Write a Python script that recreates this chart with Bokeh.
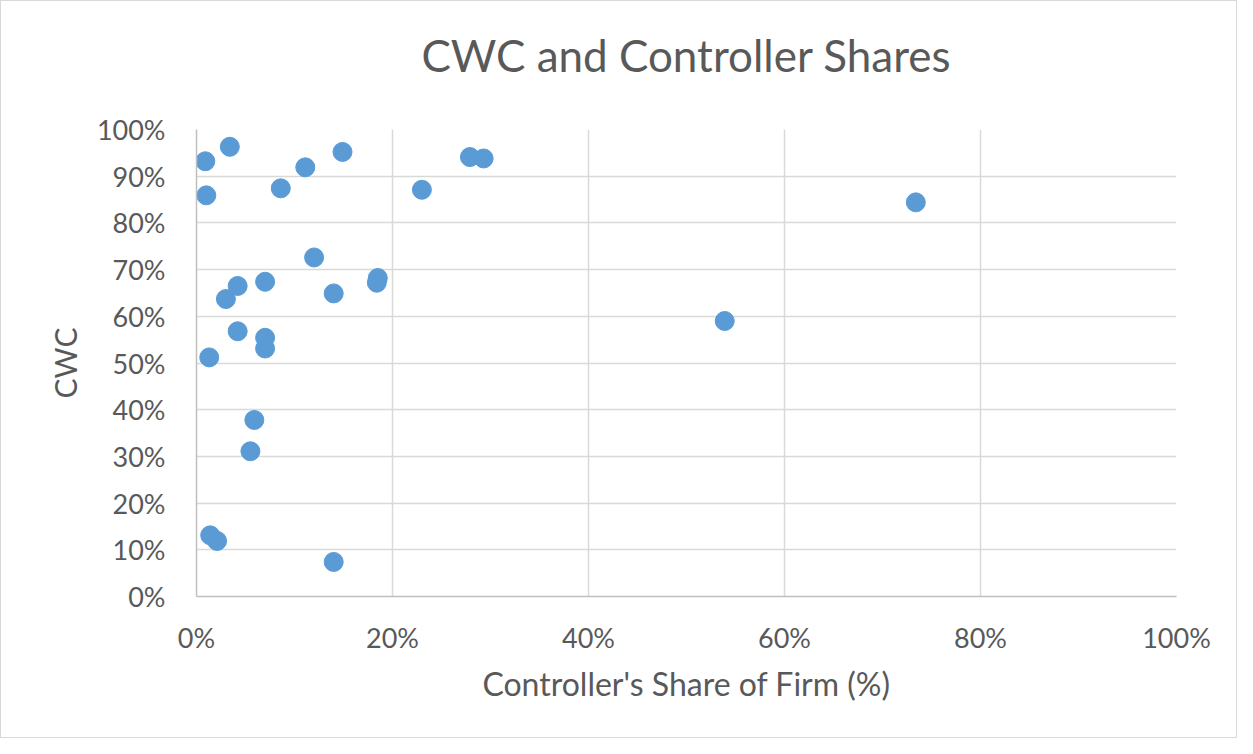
from bokeh.plotting import figure
from bokeh.models import Range1d, FixedTicker, PrintfTickFormatter, Title
from bokeh.embed import file_html
from bokeh.resources import INLINE

# Controller's share of firm (%) and CWC (%)
controller_share = [0.9, 3.4, 1.0, 11.1, 14.9, 8.6, 27.9, 29.3, 23.0, 12.0,
                    4.2, 7.0, 3.0, 14.0, 18.5, 18.4, 4.2, 7.0, 7.0, 1.3,
                    5.9, 5.5, 1.4, 2.1, 14.0, 53.9, 73.4]
cwc = [93.2, 96.3, 85.9, 91.9, 95.2, 87.4, 94.1, 93.8, 87.1, 72.6,
       66.5, 67.4, 63.7, 64.9, 68.2, 67.2, 56.8, 55.4, 53.1, 51.2,
       37.8, 31.1, 13.1, 11.9, 7.4, 59.0, 84.4]
x_ticks = [0, 20, 40, 60, 80, 100]
y_ticks = [0, 10, 20, 30, 40, 50, 60, 70, 80, 90, 100]
title_text = "CWC and Controller Shares"

FONT = "Lato"
TXT = "#595959"

p = figure(width=1237, height=738, output_backend="svg", toolbar_location=None,
           x_range=Range1d(0, 100), y_range=Range1d(0, 100),
           min_border_left=195, min_border_right=62,
           min_border_top=128, min_border_bottom=143)
p.styles = {"border": "1px solid #D9D9D9"}
p.outline_line_color = None
p.background_fill_color = "white"
p.border_fill_color = "white"

# spacer between title and plot area
p.add_layout(Title(text=" ", text_font_size="2px", standoff=40), "above")

p.title.text = title_text
p.title.align = "center"
p.title.text_font = FONT
p.title.text_font_size = "44px"
p.title.text_font_style = "normal"
p.title.text_color = TXT
p.title.standoff = 10

p.scatter(controller_share, cwc, size=19, fill_color="#5B9BD5", line_color="#5B9BD5")

p.xaxis.ticker = FixedTicker(ticks=x_ticks)
p.yaxis.ticker = FixedTicker(ticks=y_ticks)
for ax in (p.xaxis, p.yaxis):
    ax.formatter = PrintfTickFormatter(format="%d%%")
    ax.major_tick_line_color = None
    ax.minor_tick_line_color = None
    ax.major_tick_out = 0
    ax.major_tick_in = 0
    ax.axis_line_color = "#BFBFBF"
    ax.axis_line_width = 1.5
    ax.major_label_text_font = FONT
    ax.major_label_text_font_size = "27px"
    ax.major_label_text_color = TXT
    ax.axis_label_text_font = FONT
    ax.axis_label_text_font_style = "normal"
    ax.axis_label_text_color = TXT

p.xaxis.axis_label = "Controller's Share of Firm (%)"
p.yaxis.axis_label = "CWC"
p.xaxis.axis_label_text_font_size = "32px"
p.yaxis.axis_label_text_font_size = "30px"
p.xaxis.major_label_standoff = 24
p.yaxis.major_label_standoff = 31
p.xaxis.axis_label_standoff = 7
p.yaxis.axis_label_standoff = 11

p.xgrid.ticker = FixedTicker(ticks=x_ticks)
p.ygrid.ticker = FixedTicker(ticks=y_ticks)
p.grid.grid_line_color = "#D9D9D9"
p.grid.grid_line_width = 1.5

open("out.html", "w").write(file_html(p, INLINE))
